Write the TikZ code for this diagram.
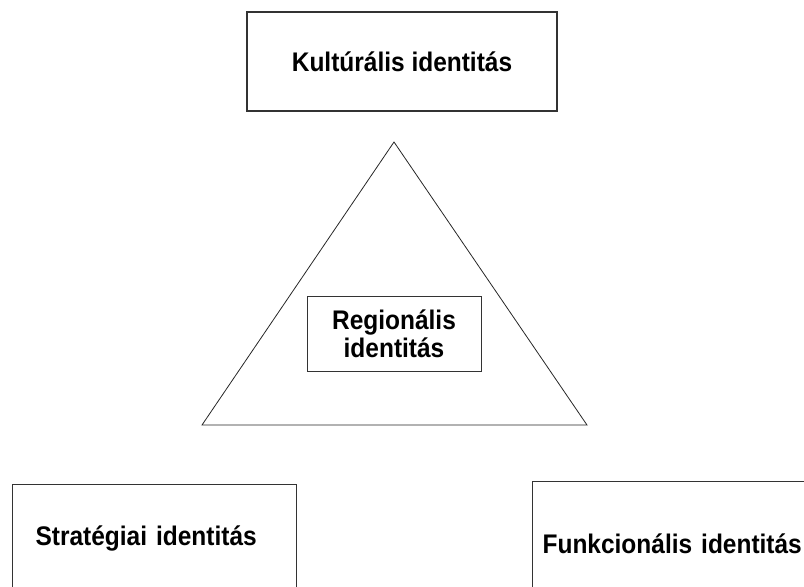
\documentclass[tikz,border=0pt]{standalone}
\usepackage{fontspec}
\setmainfont{Liberation Sans}[FakeStretch=0.91]
\usetikzlibrary{positioning}

\tikzset{
  idbox/.style={draw=black!80, line width=1.2pt, inner sep=0pt, align=center,
    font=\bfseries\fontsize{27}{28}\selectfont},
  oldalbox/.style={idbox, anchor=north west, align=left},
}

\begin{document}
\begin{tikzpicture}[x=1bp,y=-1bp]
  \useasboundingbox (0,0) rectangle (804,587);
  \clip (0,0) rectangle (804,587);

  % felso doboz
  \node[idbox, minimum width=310bp, minimum height=99bp] (kultura) at (402,61.5) {Kultúrális identitás};

  % haromszog
  \coordinate (csucs) at (394,142);
  \coordinate (balalap) at (202,425);
  \coordinate (jobbalap) at (587,425);
  \draw[black!85, line width=0.8pt] (csucs) -- (balalap) -- (jobbalap) -- cycle;

  \node[idbox, line width=1pt, minimum width=174bp, minimum height=75bp] (regio) at (394,333.5) {Regionális\\identitás};

  % also dobozok
  \node[oldalbox, text width=238bp, inner xsep=23bp, minimum height=108bp] (strategia) at (12,484) {Stratégiai identitás};
  \node[oldalbox, text width=262bp, inner xsep=10bp, minimum height=124bp] (funkcio) at (532,481) {Funkcionális identitás};
\end{tikzpicture}
\end{document}
